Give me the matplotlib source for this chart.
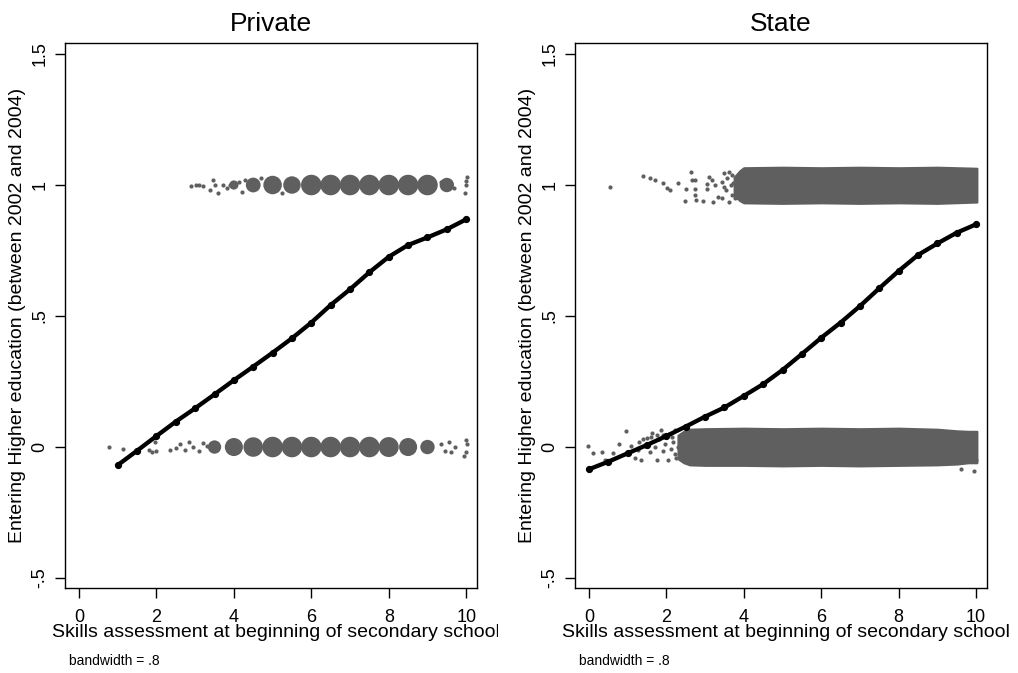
import numpy as np
import matplotlib
matplotlib.use('Agg')
import matplotlib.pyplot as plt
from matplotlib.patches import Rectangle

plt.rcParams['font.family'] = ['Liberation Sans', 'DejaVu Sans']

# lowess fits (bandwidth .8)
private_fit_x = [1, 1.5, 2, 2.5, 3, 3.5, 4, 4.5, 5, 5.5, 6, 6.5, 7, 7.5, 8, 8.5, 9, 9.5, 10]
private_fit_y = [-0.069, -0.014, 0.042, 0.097, 0.148, 0.201, 0.255, 0.307, 0.360, 0.415,
                 0.475, 0.542, 0.602, 0.667, 0.726, 0.771, 0.800, 0.831, 0.869]

state_fit_x = [0, 0.5, 1, 1.5, 2, 2.5, 3, 3.5, 4, 4.5, 5, 5.5, 6, 6.5, 7, 7.5, 8, 8.5, 9, 9.5, 10]
state_fit_y = [-0.085, -0.056, -0.024, 0.008, 0.042, 0.078, 0.116, 0.151, 0.195, 0.240, 0.294,
               0.355, 0.417, 0.475, 0.538, 0.606, 0.672, 0.733, 0.777, 0.818, 0.850]

# Private: clusters of jittered obs (relative cluster width)
private_top_x = [4.0, 4.5, 5.0, 5.5, 6.0, 6.5, 7.0, 7.5, 8.0, 8.5, 9.0, 9.5]
private_top_w = [0.45, 0.72, 0.9, 0.85, 1.0, 1.0, 1.0, 1.0, 1.0, 1.0, 1.0, 0.7]
private_bot_x = [3.5, 4.0, 4.5, 5.0, 5.5, 6.0, 6.5, 7.0, 7.5, 8.0, 8.5, 9.0]
private_bot_w = [0.65, 0.88, 0.95, 1.0, 1.0, 1.0, 1.0, 1.0, 1.0, 0.97, 0.88, 0.7]

# Private: single scattered obs
private_top_pts_x = [2.89, 3.02, 3.11, 3.20, 3.39, 3.45, 3.51, 3.60, 3.71, 3.82, 3.90, 4.12,
                     4.20, 4.28, 4.70, 5.25, 9.35, 9.68, 9.98, 10.0, 10.02, 10.0]
private_top_pts_y = [0.995, 1.0, 1.0, 0.995, 0.98, 1.02, 1.0, 0.97, 1.0, 0.99, 1.0, 1.01,
                     0.975, 1.02, 1.025, 0.97, 1.01, 0.99, 0.97, 1.0, 1.03, 1.015]
private_bot_pts_x = [0.78, 1.13, 1.82, 1.96, 1.88, 2.0, 2.35, 2.5, 2.62, 2.75, 2.85, 2.95,
                     3.1, 3.2, 3.3, 9.35, 9.45, 9.55, 9.7, 9.62, 9.95, 10.0, 10.02, 10.0]
private_bot_pts_y = [0.0, -0.007, -0.012, 0.02, -0.02, -0.015, -0.012, -0.005, 0.01, -0.01,
                     0.02, 0.0, -0.015, 0.015, 0.005, 0.01, -0.015, 0.02, 0.0, -0.02,
                     -0.035, -0.02, 0.01, 0.025]

# State: dense bands of jittered obs (edges)
state_bot_band_x = [2.3, 2.45, 2.6, 3.0, 4.0, 5.0, 6.0, 7.0, 8.0, 9.0, 9.5, 9.8, 10.02]
state_bot_band_hi = [0.045, 0.06, 0.068, 0.07, 0.072, 0.07, 0.072, 0.07, 0.072, 0.068, 0.062, 0.06, 0.06]
state_bot_band_lo = [-0.045, -0.06, -0.068, -0.07, -0.07, -0.072, -0.07, -0.072, -0.07, -0.068,
                     -0.065, -0.06, -0.06]
state_top_band_x = [3.75, 3.9, 4.0, 5.0, 6.0, 7.0, 8.0, 9.0, 10.02]
state_top_band_hi = [1.03, 1.055, 1.066, 1.068, 1.066, 1.068, 1.066, 1.068, 1.064]
state_top_band_lo = [0.96, 0.94, 0.932, 0.93, 0.932, 0.93, 0.932, 0.93, 0.935]

# State: scattered obs outside the bands
state_top_pts_x = [0.54, 1.40, 1.58, 1.71, 1.92, 2.02, 2.09, 2.31, 2.48, 2.52, 2.63, 2.65, 2.74,
                   2.74, 2.76, 2.74, 2.95, 3.04, 3.06, 3.11, 3.17, 3.21, 3.26, 3.34, 3.43, 3.49,
                   3.56, 3.63, 3.69, 3.73, 3.62, 3.55, 3.66, 3.7, 3.5, 3.45, 3.78, 3.8]
state_top_pts_y = [0.992, 1.034, 1.028, 1.019, 1.006, 0.990, 0.981, 1.006, 0.939, 0.984, 1.051,
                   1.019, 1.019, 0.962, 0.943, 0.984, 0.939, 1.003, 0.985, 1.032, 1.019, 0.936,
                   1.0, 0.955, 0.949, 0.994, 1.026, 0.936, 0.962, 1.006, 1.05, 0.98, 1.0, 1.04,
                   1.045, 1.01, 0.95, 1.02]
state_bot_pts_x = [-0.02, 0.10, 0.33, 0.41, 0.63, 0.78, 0.96, 1.04, 1.10, 1.18, 1.27, 1.30,
                   1.35, 1.44, 1.50, 1.57, 1.63, 1.70, 1.76, 1.80, 1.87, 1.91, 1.97, 2.03,
                   2.07, 2.11, 2.18, 2.23, 2.26, 2.31, 1.6, 1.75, 1.92, 2.15, 2.22, 1.4,
                   9.6, 9.95, 10.0]
state_bot_pts_y = [0.004, -0.022, -0.018, -0.05, -0.024, 0.01, 0.062, -0.022, 0.005, -0.04,
                   -0.01, 0.02, -0.05, 0.005, 0.035, -0.02, 0.055, 0.0, -0.05, 0.03, 0.065,
                   -0.015, 0.01, -0.05, 0.05, -0.008, 0.02, 0.065, -0.04, 0.0, 0.04, 0.045,
                   0.045, 0.04, -0.025, 0.03, -0.085, -0.09, -0.05]

gray = '#5f5f5f'
fig = plt.figure(figsize=(10.18, 6.73), dpi=100)
ax1 = fig.add_axes([0.0639, 0.1263, 0.4047, 0.8098])
ax2 = fig.add_axes([0.5648, 0.1263, 0.4047, 0.8098])

dot = 9
big = 14.8  # pt diameter of a full cluster

# private panel
ax1.scatter(private_top_x, [1] * len(private_top_x),
            s=(np.array(private_top_w) * big) ** 2, color=gray, lw=0, zorder=2)
ax1.scatter(private_bot_x, [0] * len(private_bot_x),
            s=(np.array(private_bot_w) * big) ** 2, color=gray, lw=0, zorder=2)
ax1.scatter(private_top_pts_x, private_top_pts_y, s=dot, color=gray, lw=0, zorder=2)
ax1.scatter(private_bot_pts_x, private_bot_pts_y, s=dot, color=gray, lw=0, zorder=2)
ax1.plot(private_fit_x, private_fit_y, color='black', lw=3.1, marker='o', ms=4.2, zorder=3)

# state panel
ax2.fill_between(state_top_band_x, state_top_band_lo, state_top_band_hi, color=gray, lw=1.5,
                 edgecolor=gray, zorder=2)
ax2.fill_between(state_bot_band_x, state_bot_band_lo, state_bot_band_hi, color=gray, lw=1.5,
                 edgecolor=gray, zorder=2)
ax2.scatter(state_top_pts_x, state_top_pts_y, s=dot, color=gray, lw=0, zorder=2)
ax2.scatter(state_bot_pts_x, state_bot_pts_y, s=dot, color=gray, lw=0, zorder=2)
ax2.plot(state_fit_x, state_fit_y, color='black', lw=3.1, marker='o', ms=4.2, zorder=3)

for ax, title in [(ax1, 'Private'), (ax2, 'State')]:
    ax.set_xlim(-0.36, 10.28)
    ax.set_ylim(-0.538, 1.542)
    ax.set_xticks([0, 2, 4, 6, 8, 10])
    ax.set_yticks([-0.5, 0, 0.5, 1, 1.5])
    ax.set_yticklabels(['-.5', '0', '.5', '1', '1.5'], rotation=90, va='center')
    ax.tick_params(direction='out', length=7, width=1, labelsize=13)
    ax.tick_params(axis='x', pad=8)
    ax.tick_params(axis='y', pad=5)
    for sp in ax.spines.values():
        sp.set_linewidth(1)
    ax.set_title(title, fontsize=19, pad=9)
    ax.set_xlabel('Skills assessment at beginning of secondary school', fontsize=14)
    ax.xaxis.set_label_coords(0.512, -0.066)
    ax.set_ylabel('Entering Higher education (between 2002 and 2004)', fontsize=14, labelpad=4)

# left x title is cut at the edge of its sub-graph
fig.add_artist(Rectangle((0.489, 0.0), 0.012, 0.1, transform=fig.transFigure,
                         facecolor='white', edgecolor='none', zorder=10))

fig.text(0.068, 0.012, 'bandwidth = .8', fontsize=10)
fig.text(0.569, 0.012, 'bandwidth = .8', fontsize=10)

fig.savefig('out.png', dpi=100)
